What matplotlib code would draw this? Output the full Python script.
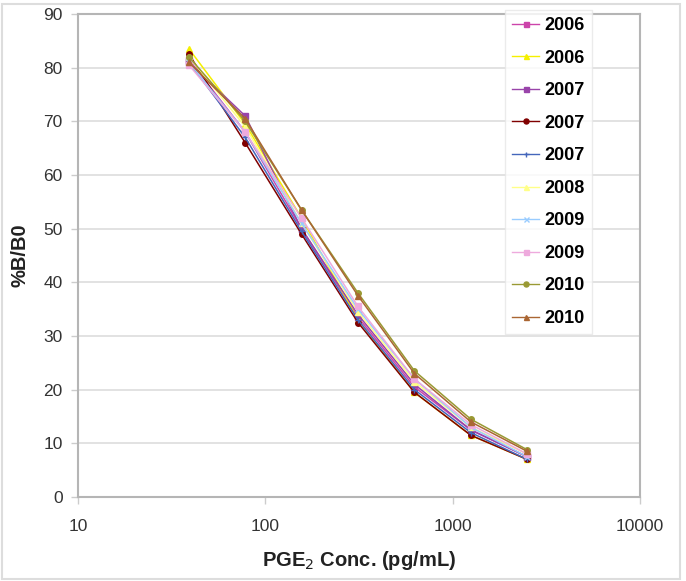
import matplotlib
matplotlib.use("Agg")
import matplotlib.pyplot as plt
from matplotlib.patches import Rectangle

plt.rcParams['font.family'] = ['Liberation Sans', 'DejaVu Sans']

conc = [39.1, 78.1, 156, 312.5, 625, 1250, 2500]
labels = ["2006", "2006", "2007", "2007", "2007", "2008", "2009", "2009", "2010", "2010"]
s2006a = [81.5, 68.0, 50.0, 33.5, 20.5, 12.5, 7.5]
s2006b = [83.5, 69.5, 52.0, 33.0, 19.5, 11.5, 7.0]
s2007a = [81.0, 71.0, 50.0, 34.0, 21.0, 12.5, 7.5]
s2007b = [82.5, 66.0, 49.0, 32.5, 19.5, 11.5, 7.0]
s2007c = [81.0, 67.0, 49.5, 33.0, 20.0, 12.0, 7.0]
s2008 = [82.0, 69.0, 51.0, 34.5, 21.5, 13.0, 8.0]
s2009a = [81.0, 68.0, 51.0, 35.0, 22.0, 13.0, 7.5]
s2009b = [80.5, 68.0, 52.0, 35.5, 22.0, 13.5, 8.0]
s2010a = [82.0, 70.0, 53.5, 38.0, 23.5, 14.5, 8.8]
s2010b = [81.0, 70.5, 53.5, 37.5, 23.0, 14.0, 8.5]
series = [s2006a, s2006b, s2007a, s2007b, s2007c, s2008, s2009a, s2009b, s2010a, s2010b]

colors = ["#CC44AA", "#F5F000", "#9944AA", "#800000", "#4466BB",
          "#FFFF88", "#99CCFF", "#EEAADD", "#999933", "#AA6633"]
markers = ["s", "^", "s", "o", "+", "^", "x", "s", "o", "^"]

fig = plt.figure(figsize=(6.86, 5.81), dpi=100)
ax = fig.add_axes([78/686, 1-497/581, (640-78)/686, (497-14)/581])

for y, c, m, lab in zip(series, colors, markers, labels):
    ax.plot(conc, y, color=c, marker=m, markersize=4, linewidth=1.1,
            markeredgewidth=1, label=lab)

ax.set_xscale('log')
ax.set_xlim(10, 10000)
ax.set_ylim(0, 90)
ax.set_yticks(range(0, 91, 10))
ax.set_xticks([10, 100, 1000, 10000])
ax.set_xticklabels(["10", "100", "1000", "10000"])
ax.minorticks_off()
ax.yaxis.grid(True, color="#dddddd", linewidth=1.2)
ax.set_axisbelow(True)
for sp in ax.spines.values():
    sp.set_color("#b5b5b5")
    sp.set_linewidth(1.5)
ax.tick_params(axis='both', colors="#cccccc", labelcolor="#333333",
               labelsize=12.5, length=5, width=1)
ax.tick_params(axis='x', pad=11)
ax.tick_params(axis='y', pad=6)
ax.set_xlabel("PGE$_2$ Conc. (pg/mL)", fontsize=14.5, fontweight='bold',
              color="#222222", labelpad=11)
ax.set_ylabel("%B/B0", fontsize=14.5, fontweight='bold', color="#222222",
              labelpad=10)

leg = fig.legend(loc='upper left', bbox_to_anchor=(505/686, 1-10/581),
                 frameon=True, fancybox=False, shadow=False,
                 prop={'weight': 'bold', 'size': 13},
                 handlelength=1.5, handletextpad=0.3, labelspacing=0.86,
                 borderpad=0.4, borderaxespad=0, markerscale=0.9)
leg.get_frame().set_edgecolor("#e6e6e6")
leg.get_frame().set_linewidth(1.0)
for h in leg.get_lines():
    h.set_linewidth(1.0)

fig.patches.append(Rectangle((2/686, 2/581), 678/686, 1-6/581,
                             transform=fig.transFigure, fill=False,
                             edgecolor="#dddddd", linewidth=1.5))

fig.savefig("out.png", dpi=100)
